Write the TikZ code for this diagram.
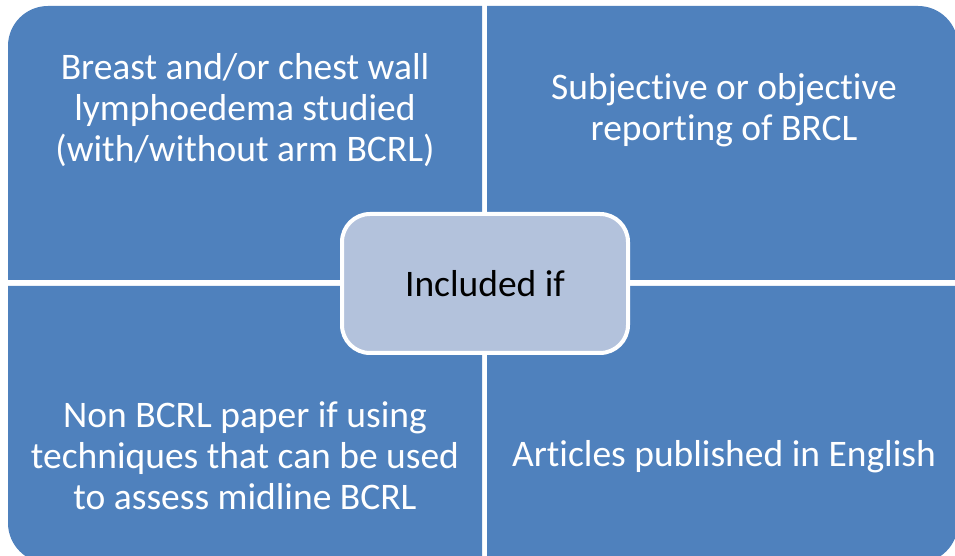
\documentclass[tikz,border=0pt]{standalone}
\usepackage{fontspec}
\setmainfont{Carlito}[RawFeature={-liga;-calt;-clig;-dlig}]
\definecolor{quadblue}{HTML}{4F81BD}
\definecolor{centerblue}{HTML}{B3C2DC}
\tikzset{
  quad/.style={fill=quadblue, draw=none},
  quadtext/.style={text=white, align=center, font=\fontsize{37.5}{41}\selectfont, inner sep=0pt},
  centerbox/.style={fill=centerblue, draw=white, line width=4pt, rounded corners=28pt},
  centertext/.style={text=black, font=\fontsize{37.5}{41}\selectfont, inner sep=0pt}
}
\begin{document}
\begin{tikzpicture}[x=1pt,y=1pt]
\useasboundingbox (0,0) rectangle (955,556);
\begin{scope}
\clip (0,0) rectangle (955,556);
% top-left
\fill[quad] (482,276) -- (8,276) -- (8,510) arc[start angle=180,end angle=90,radius=40] -- (482,550) -- cycle;
% top-right
\fill[quad] (487,276) -- (487,550) -- (918,550) arc[start angle=90,end angle=0,radius=40] -- (958,276) -- cycle;
% bottom-left
\fill[quad] (482,270) -- (8,270) -- (8,33) arc[start angle=180,end angle=270,radius=40] -- (482,-7) -- cycle;
% bottom-right
\fill[quad] (487,270) -- (958,270) -- (958,33) arc[start angle=0,end angle=-90,radius=40] -- (487,-7) -- cycle;
\end{scope}
\node[quadtext] (tl) at (245,446) {Breast and/or chest wall\\lymphoedema studied\\(with/without arm BCRL)};
\node[quadtext] (tr) at (724,446) {Subjective or objective\\reporting of BRCL};
\node[quadtext] (bl) at (245,100) {Non BCRL paper if using\\techniques that can be used\\to assess midline BCRL};
\node[quadtext] (br) at (724,99) {Articles published in English};
\draw[centerbox] (342,203) rectangle (628,342);
\node[centertext] (c) at (485,272) {Included if};
\end{tikzpicture}
\end{document}
